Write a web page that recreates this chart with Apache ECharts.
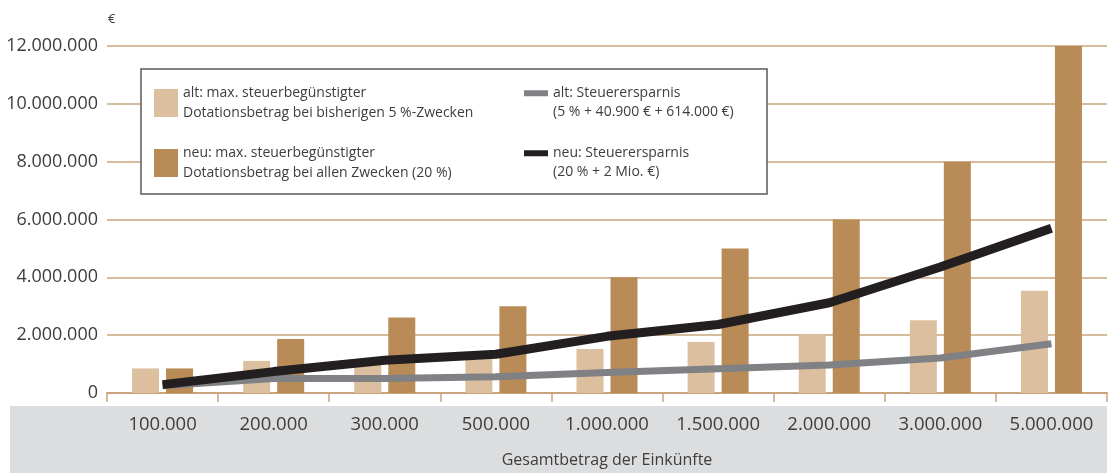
<!DOCTYPE html>
<html>
<head>
<meta charset="utf-8">
<script src="https://cdn.jsdelivr.net/npm/echarts@6/dist/echarts.min.js"></script>
<style>
html,body{margin:0;padding:0;background:#fff;}
#chart{width:1114px;height:473px;}
</style>
</head>
<body>
<div id="chart"></div>
<script>
const categories = ['100.000','200.000','300.000','500.000','1.000.000','1.500.000','2.000.000','3.000.000','5.000.000'];
const altDotation = [850000,1110000,1170000,1170000,1520000,1760000,2030000,2520000,3540000];
const neuDotation = [850000,1870000,2610000,3000000,4000000,5000000,6000000,8000000,12000000];
const altErsparnis = [250000,500000,500000,560000,710000,840000,970000,1210000,1700000];
const neuErsparnis = [290000,740000,1130000,1340000,1960000,2370000,3120000,4360000,5700000];
const yTicks = [0,2000000,4000000,6000000,8000000,10000000,12000000];

const names = [
  'alt: max. steuerbegünstigter\nDotationsbetrag bei bisherigen 5 %-Zwecken',
  'neu: max. steuerbegünstigter\nDotationsbetrag bei allen Zwecken (20 %)',
  'alt: Steuerersparnis',
  'neu: Steuerersparnis'
];
const secondLines = ['(5 % + 40.900 € + 614.000 €)','(20 % + 2 Mio. €)'];

const FONT = '"Open Sans", sans-serif';
const TXT = '#3d3d3d';
const TAN = '#c9a47c';
const LIGHT = '#dbbf9f';
const DARK = '#b98b56';
const GRAY = '#808184';
const BLACK = '#231f20';

function fmt(v){ return String(v).replace(/\B(?=(\d{3})+(?!\d))/g,'.'); }

function mkLegend(name, left, top, w, h){
  return {
    data:[{name:name, icon:'rect'}],
    left:left, top:top, padding:0, itemWidth:w, itemHeight:h,
    selectedMode:false, z:5,
    textStyle:{fontFamily:FONT, fontSize:14, color:TXT, lineHeight:19.5}
  };
}

const chart = echarts.init(document.getElementById('chart'), null, {renderer:'canvas'});
chart.setOption({
  animation:false,
  backgroundColor:'#fff',
  grid:{left:107, right:7, top:46, bottom:76, containLabel:false},
  legend:[
    mkLegend(names[0],154,83.5,24,28),
    mkLegend(names[1],154,143.5,24,28),
    mkLegend(names[2],524,83.5,24,6),
    mkLegend(names[3],524,143.5,24,6)
  ],
  graphic:[
    {type:'rect', z:-1, shape:{x:10,y:406,width:1097,height:67}, style:{fill:'#dcddde'}},
    {type:'rect', z:1, shape:{x:141,y:69,width:626,height:125}, style:{fill:'#fff',stroke:'#58595b',lineWidth:1.5}},
    {type:'text', z:5, x:553, y:112, style:{text:secondLines[0], font:'14px '+FONT, fill:TXT, verticalAlign:'middle'}},
    {type:'text', z:5, x:553, y:172.5, style:{text:secondLines[1], font:'14px '+FONT, fill:TXT, verticalAlign:'middle'}}
  ],
  xAxis:{
    type:'category', data:categories, boundaryGap:true,
    name:'Gesamtbetrag der Einkünfte', nameLocation:'middle', nameGap:59,
    nameTextStyle:{fontFamily:FONT, fontSize:16, color:TXT},
    axisLine:{lineStyle:{color:TAN, width:2}},
    axisTick:{show:true, interval:0, length:9, lineStyle:{color:TAN, width:1.5}},
    axisLabel:{interval:0, fontFamily:FONT, fontSize:18.5, color:TXT, margin:22}
  },
  yAxis:{
    type:'value', min:0, max:12000000, interval:2000000,
    name:'€', nameLocation:'end', nameGap:20,
    nameTextStyle:{fontFamily:FONT, fontSize:13, color:TXT, align:'left', padding:[0,0,0,1]},
    axisLine:{show:false}, axisTick:{show:false},
    axisLabel:{fontFamily:FONT, fontSize:18, color:TXT, margin:9,
      formatter:function(v){ return yTicks.indexOf(v)>=0 ? fmt(v) : ''; }},
    splitLine:{lineStyle:{color:TAN, width:1.5}}
  },
  series:[
    {name:names[0], type:'bar', data:altDotation, barWidth:27, barGap:'26%', itemStyle:{color:LIGHT}, z:2},
    {name:names[1], type:'bar', data:neuDotation, barWidth:27, barGap:'26%', itemStyle:{color:DARK}, z:2},
    {name:names[2], type:'line', data:altErsparnis, showSymbol:false, symbol:'none', z:3,
      itemStyle:{color:GRAY}, lineStyle:{color:GRAY, width:7, cap:'butt'}},
    {name:names[3], type:'line', data:neuErsparnis, showSymbol:false, symbol:'none', z:4,
      itemStyle:{color:BLACK}, lineStyle:{color:BLACK, width:9, cap:'butt'}}
  ]
});
</script>
</body>
</html>
